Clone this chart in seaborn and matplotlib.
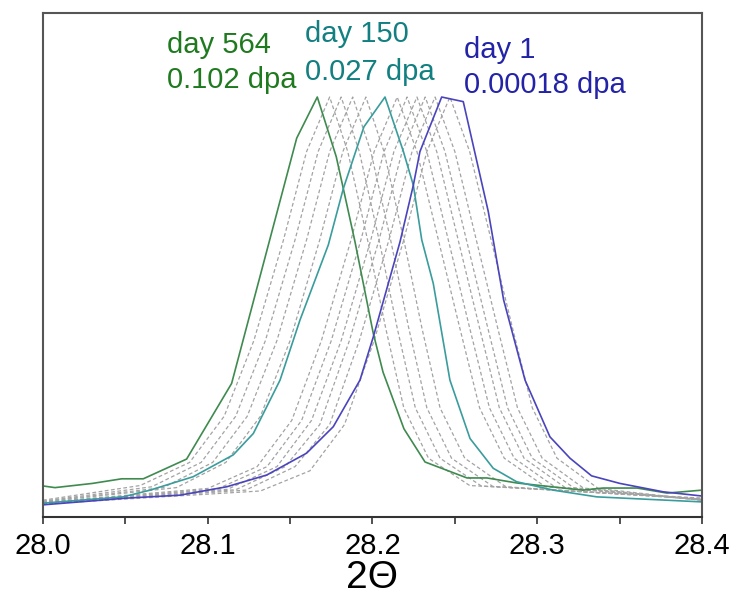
import matplotlib
matplotlib.use("Agg")
import matplotlib.pyplot as plt
from matplotlib.ticker import MultipleLocator, FormatStrFormatter
import seaborn as sns

# day 564 / 0.102 dpa (green)
x_day564 = [28.000, 28.0073, 28.030, 28.0478, 28.0609, 28.0872, 28.1145, 28.154, 28.1665,
            28.178, 28.1823, 28.1894, 28.2005, 28.2064, 28.2191, 28.2319, 28.2574, 28.2695,
            28.2877, 28.3278, 28.3399, 28.3606, 28.3788, 28.400]
y_day564 = [0.074, 0.070, 0.080, 0.091, 0.091, 0.138, 0.318, 0.902, 1.000,
            0.858, 0.782, 0.655, 0.437, 0.345, 0.210, 0.131, 0.093, 0.093,
            0.081, 0.064, 0.069, 0.069, 0.057, 0.064]

# day 150 / 0.027 dpa (teal)
x_day150 = [28.000, 28.0487, 28.065, 28.0912, 28.1155, 28.1277, 28.1439, 28.156, 28.1732,
            28.1823, 28.1948, 28.2076, 28.2187, 28.2248, 28.2299, 28.2369, 28.247, 28.2592,
            28.2733, 28.2875, 28.3097, 28.3361, 28.400]
y_day150 = [0.033, 0.048, 0.064, 0.096, 0.148, 0.199, 0.326, 0.469, 0.648,
            0.782, 0.929, 1.000, 0.871, 0.790, 0.660, 0.556, 0.326, 0.187,
            0.116, 0.084, 0.064, 0.048, 0.036]

# day 1 / 0.00018 dpa (blue)
x_day1 = [28.000, 28.0508, 28.0832, 28.1115, 28.1358, 28.160, 28.1762, 28.1924, 28.2005,
          28.2167, 28.2248, 28.2288, 28.242, 28.2551, 28.2703, 28.2796, 28.2926, 28.3077,
          28.3199, 28.333, 28.3502, 28.3765, 28.400]
y_day1 = [0.029, 0.045, 0.052, 0.072, 0.100, 0.152, 0.215, 0.326, 0.429,
          0.655, 0.790, 0.870, 1.000, 0.989, 0.727, 0.517, 0.326, 0.191,
          0.140, 0.098, 0.080, 0.060, 0.050]

# intermediate days (grey dashed)
gray_x = [
    [28.0, 28.059, 28.089, 28.110, 28.128, 28.146, 28.160, 28.174, 28.185, 28.197, 28.208, 28.219, 28.234, 28.259, 28.4],
    [28.0, 28.066, 28.096, 28.117, 28.135, 28.153, 28.167, 28.181, 28.192, 28.204, 28.215, 28.226, 28.241, 28.266, 28.4],
    [28.0, 28.073, 28.103, 28.124, 28.142, 28.160, 28.174, 28.188, 28.199, 28.211, 28.222, 28.233, 28.248, 28.273, 28.4],
    [28.0, 28.081, 28.111, 28.132, 28.150, 28.168, 28.182, 28.196, 28.207, 28.219, 28.230, 28.241, 28.256, 28.281, 28.4],
    [28.0, 28.100, 28.130, 28.151, 28.169, 28.187, 28.201, 28.215, 28.227, 28.240, 28.253, 28.265, 28.280, 28.305, 28.4],
    [28.0, 28.106, 28.136, 28.157, 28.175, 28.193, 28.207, 28.221, 28.233, 28.246, 28.259, 28.271, 28.286, 28.311, 28.4],
    [28.0, 28.112, 28.142, 28.163, 28.181, 28.199, 28.213, 28.227, 28.239, 28.252, 28.265, 28.277, 28.292, 28.317, 28.4],
    [28.0, 28.117, 28.147, 28.168, 28.186, 28.204, 28.218, 28.232, 28.244, 28.257, 28.270, 28.282, 28.297, 28.322, 28.4],
    [28.0, 28.123, 28.153, 28.174, 28.192, 28.210, 28.224, 28.238, 28.250, 28.263, 28.276, 28.288, 28.303, 28.328, 28.4],
    [28.0, 28.132, 28.162, 28.183, 28.201, 28.219, 28.233, 28.247, 28.259, 28.272, 28.285, 28.297, 28.312, 28.337, 28.4],
]
gray_y = [
    [0.040, 0.075, 0.13, 0.24, 0.42, 0.66, 0.87, 1.0, 0.87, 0.66, 0.45, 0.26, 0.14, 0.075, 0.045],
    [0.038, 0.072, 0.13, 0.24, 0.42, 0.66, 0.87, 1.0, 0.87, 0.66, 0.45, 0.26, 0.14, 0.074, 0.044],
    [0.037, 0.070, 0.13, 0.24, 0.42, 0.66, 0.87, 1.0, 0.87, 0.66, 0.45, 0.26, 0.14, 0.073, 0.043],
    [0.036, 0.070, 0.13, 0.24, 0.42, 0.66, 0.87, 1.0, 0.87, 0.66, 0.45, 0.26, 0.14, 0.072, 0.042],
    [0.035, 0.068, 0.12, 0.23, 0.42, 0.66, 0.87, 1.0, 0.87, 0.66, 0.45, 0.26, 0.14, 0.072, 0.042],
    [0.034, 0.067, 0.12, 0.23, 0.42, 0.66, 0.87, 1.0, 0.87, 0.66, 0.45, 0.26, 0.14, 0.071, 0.041],
    [0.034, 0.066, 0.12, 0.23, 0.42, 0.66, 0.87, 1.0, 0.87, 0.66, 0.45, 0.26, 0.14, 0.070, 0.041],
    [0.033, 0.065, 0.12, 0.22, 0.42, 0.66, 0.87, 1.0, 0.87, 0.66, 0.45, 0.26, 0.14, 0.070, 0.040],
    [0.032, 0.064, 0.12, 0.22, 0.42, 0.66, 0.87, 1.0, 0.87, 0.66, 0.45, 0.26, 0.14, 0.069, 0.040],
    [0.031, 0.062, 0.11, 0.22, 0.42, 0.66, 0.87, 1.0, 0.87, 0.66, 0.45, 0.26, 0.14, 0.068, 0.040],
]

day_labels = ["day 564", "day 150", "day 1"]
dpa_labels = ["0.102 dpa", "0.027 dpa", "0.00018 dpa"]

sns.set_style("white")
plt.rcParams['font.family'] = ['Liberation Sans', 'DejaVu Sans']

fig = plt.figure(figsize=(7.32, 6.0), dpi=100)
ax = fig.add_axes([0.0587, 0.1383, 0.9003, 0.8400])

for gx, gy in zip(gray_x, gray_y):
    ax.plot(gx, gy, color="#a3a3a3", lw=0.9, dashes=(3, 2))

line_colors = ["#3f8a4f", "#3a9c9c", "#4a44bd"]
text_colors = ["#1f7a1f", "#127f80", "#2323a8"]
series = [(x_day564, y_day564), (x_day150, y_day150), (x_day1, y_day1)]
for (xs, ys), c in zip(series, line_colors):
    sns.lineplot(x=xs, y=ys, ax=ax, color=c, lw=1.2, estimator=None, sort=False)

# label positions (x left edge, baseline of first and second line)
label_pos = [(28.0751, 1.104, 1.021), (28.1593, 1.132, 1.040), (28.2555, 1.092, 1.009)]
for (lx, b1, b2), d, p, c in zip(label_pos, day_labels, dpa_labels, text_colors):
    ax.text(lx, b1, d, color=c, fontsize=21, va="baseline", ha="left")
    ax.text(lx, b2, p, color=c, fontsize=21, va="baseline", ha="left")

ax.set_xlim(28.0, 28.4)
ax.set_ylim(0, 1.2)
ax.set_yticks([])
ax.xaxis.set_major_locator(MultipleLocator(0.1))
ax.xaxis.set_minor_locator(MultipleLocator(0.05))
ax.xaxis.set_major_formatter(FormatStrFormatter("%.1f"))
ax.tick_params(axis="x", which="both", direction="out", length=5, width=1.2,
               color="#333333", bottom=True, labelsize=21, labelcolor="black", pad=6)
for s in ax.spines.values():
    s.set_color("#555555")
    s.set_linewidth(1.5)
ax.spines["bottom"].set_color("#333333")
ax.set_xlabel("2Θ", fontsize=28, labelpad=0, color="black")

fig.savefig("out.png", dpi=100)
